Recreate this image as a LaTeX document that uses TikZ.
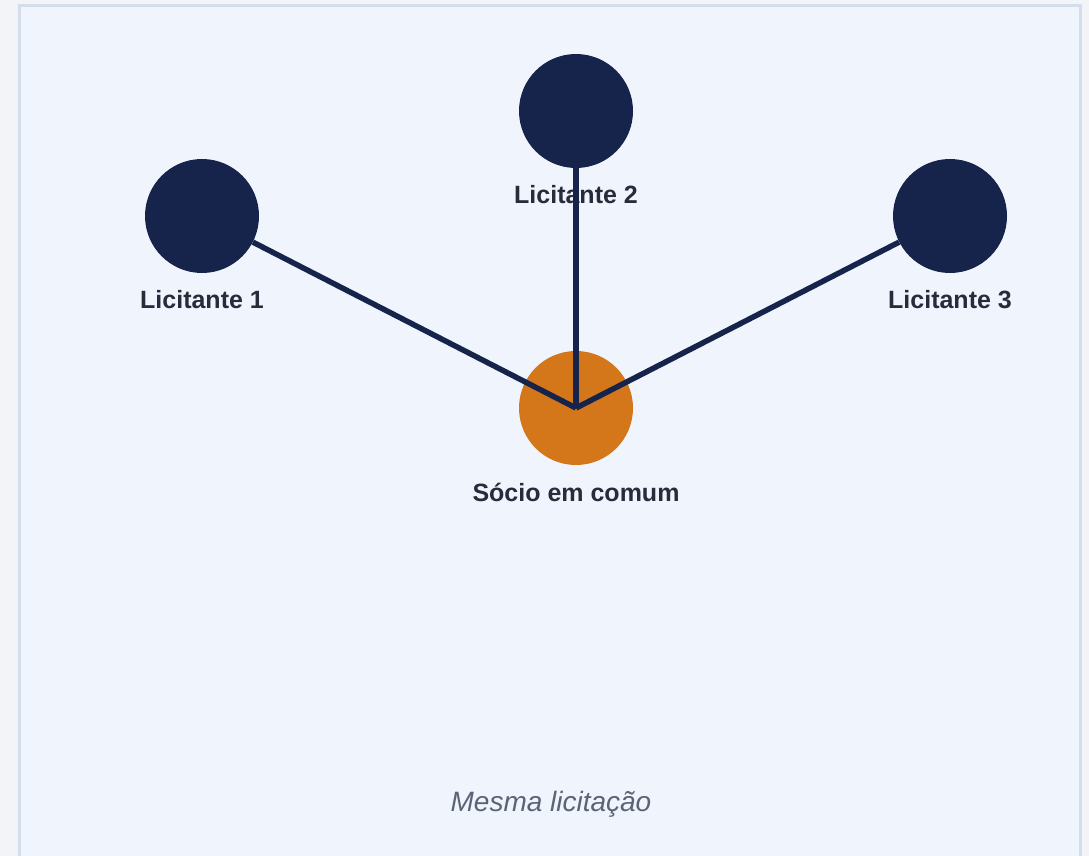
\documentclass[tikz,border=0pt]{standalone}
\usepackage{fontspec}
\setmainfont{Liberation Sans}
\definecolor{outbg}{HTML}{F3F4F7}
\definecolor{panelbg}{HTML}{F0F4FC}
\definecolor{panelbd}{HTML}{D4DDEC}
\definecolor{navy}{HTML}{16244B}
\definecolor{orange}{HTML}{D4761A}
\definecolor{labelc}{HTML}{272C3C}
\definecolor{capc}{HTML}{5B6477}
\begin{document}
\begin{tikzpicture}[x=1pt,y=-1pt,
  bidder/.style={circle,fill=navy,minimum size=114pt,inner sep=0pt},
  partner/.style={circle,fill=orange,minimum size=114pt,inner sep=0pt},
  lbl/.style={font=\fontsize{25}{29}\selectfont\bfseries,text=labelc,inner sep=0pt},
  link/.style={draw=navy,line width=5.5pt}]
\useasboundingbox (0,0) rectangle (1089,856);
\fill[outbg] (0,0) rectangle (1089,856);
\fill[panelbg,draw=panelbd,line width=3pt] (19.5,5.5) rectangle (1080.5,870);
\node[partner] (s) at (576,408) {};
\node[lbl] (ls) at (576,492) {Sócio em comum};
\node[lbl] (l1t) at (202,300) {Licitante 1};
\node[lbl] (l2t) at (576,195) {Licitante 2};
\node[lbl] (l3t) at (950,300) {Licitante 3};
\coordinate (c) at (576,408);
\node[bidder] (l1) at (202,216) {};
\node[bidder] (l2) at (576,111) {};
\node[bidder] (l3) at (950,216) {};
\draw[link] (l1) -- (c);
\draw[link] (l2) -- (c);
\draw[link] (l3) -- (c);
\node[font=\fontsize{28}{32}\selectfont\itshape,text=capc,inner sep=0pt] (cap) at (551,804) {Mesma licitação};
\end{tikzpicture}
\end{document}
